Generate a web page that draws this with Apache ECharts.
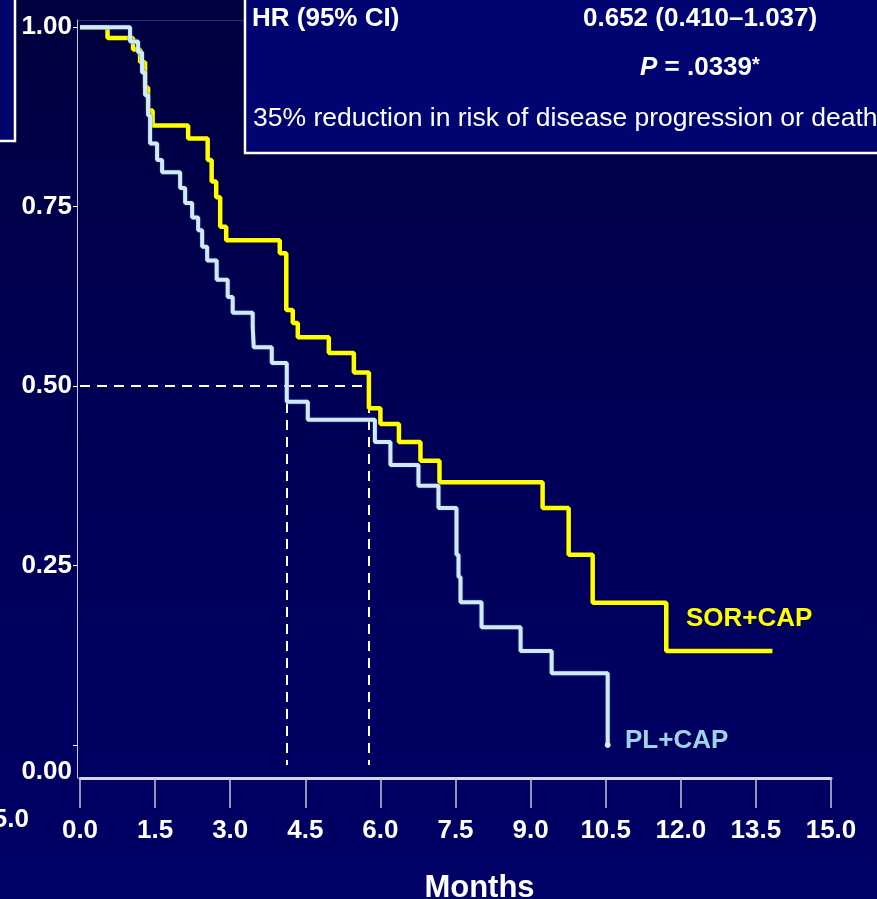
<!DOCTYPE html>
<html>
<head>
<meta charset="utf-8">
<script src="https://cdn.jsdelivr.net/npm/echarts@6/dist/echarts.min.js"></script>
<style>
html,body{margin:0;padding:0;background:#000050;}
#chart{width:877px;height:899px;}
</style>
</head>
<body>
<div id="chart"></div>
<script>
// ---- data ----
var xTicks = [0, 1.5, 3, 4.5, 6, 7.5, 9, 10.5, 12, 13.5, 15];
var yTicks = [0, 0.25, 0.5, 0.75, 1.0];

var sorTime = [0, 0.55, 1.06, 1.2, 1.3, 1.36, 1.45, 2.16, 2.55, 2.63, 2.72, 2.8, 2.92, 3.99, 4.12, 4.25, 4.35, 4.97, 5.47, 5.77, 6.0, 6.37, 6.8, 7.18, 9.24, 9.76, 10.24, 11.71, 13.83];
var sorSurv = [1.0, 0.985, 0.969, 0.951, 0.916, 0.884, 0.863, 0.845, 0.815, 0.785, 0.763, 0.722, 0.703, 0.685, 0.606, 0.588, 0.568, 0.546, 0.519, 0.469, 0.447, 0.422, 0.396, 0.366, 0.330, 0.265, 0.198, 0.131, 0.131];

var plTime = [0, 1.0, 1.16, 1.24, 1.3, 1.36, 1.4, 1.54, 1.64, 2.0, 2.1, 2.24, 2.36, 2.44, 2.54, 2.73, 2.95, 3.05, 3.45, 3.47, 3.83, 4.13, 4.55, 5.89, 6.2, 6.76, 7.16, 7.52, 7.56, 7.6, 8.02, 8.8, 9.42, 10.54];
var plSurv = [1.0, 0.980, 0.965, 0.937, 0.905, 0.877, 0.838, 0.815, 0.798, 0.776, 0.755, 0.735, 0.717, 0.694, 0.675, 0.648, 0.624, 0.602, 0.582, 0.554, 0.532, 0.478, 0.453, 0.422, 0.390, 0.361, 0.330, 0.265, 0.234, 0.199, 0.164, 0.131, 0.100, 0.0];

var medianLevel = 0.5;
var plMedian = 4.13;
var sorMedian = 5.76;
var dashBottom = -0.028;

var seriesNames = ['SOR+CAP', 'PL+CAP'];

// ---- chart ----
var FONT = 'Liberation Sans, Arial, Helvetica, sans-serif';
function zip(t, s) { return t.map(function (v, i) { return [v, s[i]]; }); }
var plData = zip(plTime, plSurv).map(function (p, i, arr) {
  if (i === arr.length - 1) return { value: p, symbol: 'circle', symbolSize: 5 };
  return { value: p, symbol: 'none' };
});

var chart = echarts.init(document.getElementById('chart'), null, { renderer: 'canvas' });
chart.setOption({
  animation: false,
  backgroundColor: {
    type: 'linear', x: 0, y: 0, x2: 0, y2: 1,
    colorStops: [
      { offset: 0, color: '#00003e' },
      { offset: 0.45, color: '#000056' },
      { offset: 1, color: '#000066' }
    ]
  },
  grid: { left: 80, right: 46, top: 20, bottom: 121, containLabel: false, outerBoundsMode: 'none' },
  xAxis: {
    type: 'value', min: 0, max: 15, interval: 1.5,
    axisLine: { show: true, onZero: false, lineStyle: { color: '#d4d4e2', width: 3 } },
    axisTick: { show: true, length: 30, lineStyle: { color: '#c4c4d4', width: 1.5 } },
    splitLine: { show: false },
    axisLabel: {
      color: '#ffffff', fontFamily: FONT, fontWeight: 'bold', fontSize: 26, margin: 40,
      formatter: function (v) { return v.toFixed(1); }
    },
    name: 'Months', nameLocation: 'middle', nameGap: 95,
    nameTextStyle: { color: '#ffffff', fontFamily: FONT, fontWeight: 'bold', fontSize: 31, padding: [0, 0, 0, 48] }
  },
  yAxis: {
    type: 'value', min: -0.046, max: 1.01, offset: 3,
    axisLine: { show: true, onZero: false, lineStyle: { color: '#c8c8d8', width: 1 } },
    axisTick: { show: true, length: 4, customValues: yTicks, lineStyle: { color: '#ffffff', width: 1 } },
    splitLine: { show: false },
    axisLabel: {
      color: '#ffffff', fontFamily: FONT, fontWeight: 'bold', fontSize: 26, margin: 5,
      customValues: [-0.0376].concat(yTicks.slice(1)),
      formatter: function (v) { return (v < 0 ? 0 : v).toFixed(2); }
    }
  },
  series: [
    {
      name: seriesNames[0], type: 'line', step: 'end', z: 3,
      symbol: 'none', data: zip(sorTime, sorSurv),
      lineStyle: { color: '#ffff00', width: 4.5, shadowColor: 'rgba(0,0,0,0.55)', shadowBlur: 2 },
      markLine: {
        silent: true, symbol: 'none', z: 2,
        label: { show: false },
        lineStyle: { color: '#ffffff', width: 2, type: [10, 7] },
        data: [
          [{ coord: [0, medianLevel] }, { coord: [sorMedian, medianLevel] }],
          [{ coord: [plMedian, medianLevel] }, { coord: [plMedian, dashBottom] }],
          [{ coord: [sorMedian, medianLevel] }, { coord: [sorMedian, dashBottom] }]
        ]
      }
    },
    {
      name: seriesNames[1], type: 'line', step: 'end', z: 4,
      showSymbol: true, data: plData,
      itemStyle: { color: '#d6eefc', borderColor: '#d6eefc' },
      lineStyle: { color: '#cfeafc', width: 4, shadowColor: 'rgba(60,80,140,0.9)', shadowBlur: 2 }
    }
  ],
  graphic: [
    { type: 'line', z: 1, shape: { x1: 78, y1: 20.5, x2: 246, y2: 20.5 }, style: { stroke: '#2a2a8e', lineWidth: 1 } },
    { type: 'rect', z: 10, shape: { x: -6, y: -6, width: 21, height: 147 }, style: { fill: '#00056c', stroke: '#ffffff', lineWidth: 2.5 } },
    { type: 'rect', z: 10, shape: { x: 245, y: -6, width: 650, height: 159 }, style: { fill: '#000470', stroke: '#ffffff', lineWidth: 2.5 } },
    { type: 'text', z: 11, x: 252, y: 19, style: { text: 'HR (95% CI)', fill: '#ffffff', font: 'bold 26px ' + FONT, verticalAlign: 'middle' } },
    { type: 'text', z: 11, x: 583, y: 19, style: { text: '0.652 (0.410\u20131.037)', fill: '#ffffff', font: 'bold 26px ' + FONT, verticalAlign: 'middle' } },
    { type: 'text', z: 11, x: 640, y: 68, style: {
        text: '{i|P}{b| = .0339}{s|*}', verticalAlign: 'middle',
        rich: {
          i: { fill: '#ffffff', font: 'italic bold 26px ' + FONT },
          b: { fill: '#ffffff', font: 'bold 26px ' + FONT },
          s: { fill: '#ffffff', font: 'bold 20px ' + FONT, padding: [0, 0, 6, 0] }
        } } },
    { type: 'text', z: 11, x: 253, y: 119, style: { text: '35% reduction in risk of disease progression or death', fill: '#ffffff', font: '26.5px ' + FONT, verticalAlign: 'middle' } },
    { type: 'text', z: 11, x: 686, y: 619, style: { text: seriesNames[0], fill: '#ffff00', font: 'bold 26px ' + FONT, verticalAlign: 'middle' } },
    { type: 'text', z: 11, x: 625, y: 741, style: { text: seriesNames[1], fill: '#9fd4e6', font: 'bold 26px ' + FONT, verticalAlign: 'middle' } },
    { type: 'text', z: 11, x: 29, y: 820, style: { text: '15.0', fill: '#ffffff', font: 'bold 26px ' + FONT, align: 'right', verticalAlign: 'middle' } }
  ]
});
</script>
</body>
</html>
